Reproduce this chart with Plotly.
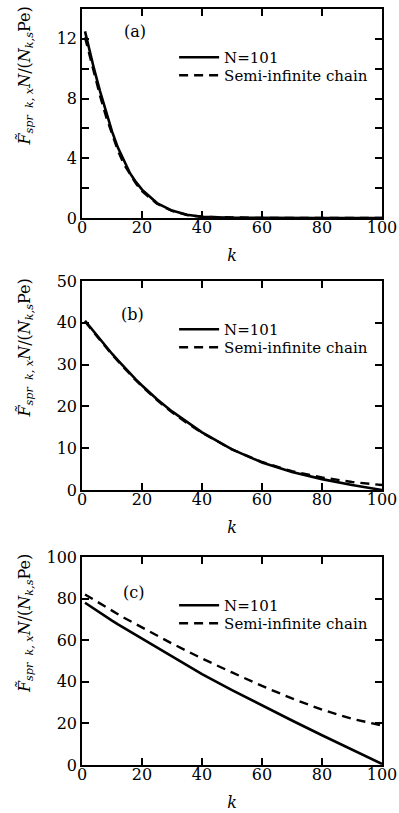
import plotly.graph_objects as go

# ---- data ----
k = [1, 2, 4, 6, 8, 10, 12, 14, 16, 18, 20, 25, 30, 35, 40, 50, 60, 70, 80, 90, 100]

a_n101 = [12.5, 11.6, 10.0, 8.5, 7.1, 5.8, 4.7, 3.8, 3.0, 2.4, 1.9, 1.0, 0.5, 0.22, 0.08, 0.02, 0.0, 0.0, 0.0, 0.0, 0.0]
a_semi = [12.1, 11.3, 9.7, 8.2, 6.8, 5.6, 4.5, 3.6, 2.9, 2.3, 1.8, 0.95, 0.48, 0.2, 0.08, 0.02, 0.0, 0.0, 0.0, 0.0, 0.0]

b_n101 = [40.5, 39.6, 37.8, 36.1, 34.4, 32.6, 31.0, 29.4, 27.9, 26.4, 25.0, 21.7, 18.8, 16.2, 13.8, 9.7, 6.6, 4.3, 2.6, 1.2, 0.0]
b_semi = [40.3, 39.4, 37.6, 35.9, 34.2, 32.4, 30.8, 29.2, 27.7, 26.2, 24.8, 21.5, 18.6, 16.0, 13.7, 9.7, 6.7, 4.5, 3.0, 1.9, 1.2]

c_n101 = [78.0, 77.0, 75.1, 73.2, 71.3, 69.4, 67.6, 65.9, 64.2, 62.4, 60.7, 56.3, 52.0, 47.8, 43.7, 36.0, 28.6, 21.4, 14.3, 7.3, 0.5]
c_semi = [82.0, 81.1, 79.3, 77.6, 75.9, 74.2, 72.5, 70.8, 69.2, 67.6, 66.0, 62.1, 58.4, 54.8, 51.2, 44.5, 38.0, 32.0, 26.6, 22.2, 19.0]

panels = [
    ("(a)", a_n101, a_semi, [0, 14], [0, 2, 4, 6, 8, 10, 12, 14], ["0", "", "4", "", "8", "", "12", ""]),
    ("(b)", b_n101, b_semi, [0, 50], [0, 10, 20, 30, 40, 50], ["0", "10", "20", "30", "40", "50"]),
    ("(c)", c_n101, c_semi, [0, 100], [0, 20, 40, 60, 80, 100], ["0", "20", "40", "60", "80", "100"]),
]
x_ticks = [0, 20, 40, 60, 80, 100]
label_pos = [(17.7, 12.46), (16.7, 41.9), (17.3, 83.0)]

FONT = "DejaVu Serif"
FS = 16
W, H = 399, 813
ML, MR, MT, MB = 82, 17, 9, 48
plot_h = H - MT - MB
# pixel rows of each plot area (top, bottom)
rows = [(9, 218), (281, 490), (557, 765)]

fig = go.Figure()
annotations = []
for i, (lab, yn, ys, yr, yt, ytt) in enumerate(panels):
    n = "" if i == 0 else str(i + 1)
    xa, ya = "x" + n, "y" + n
    leg_n = "legend" + ("" if i == 0 else str(2 * i + 1))
    leg_s = "legend" + str(2 * i + 2)
    fig.add_trace(go.Scatter(x=k, y=ys, mode="lines", name="Semi-infinite chain",
                             line=dict(color="black", width=2.4, dash="9px,6px"),
                             xaxis=xa, yaxis=ya, legend=leg_s))
    fig.add_trace(go.Scatter(x=k, y=yn, mode="lines", name="N=101",
                             line=dict(color="black", width=2.6),
                             xaxis=xa, yaxis=ya, legend=leg_n))
    top, bot = rows[i]
    d0 = (H - MB - bot) / plot_h
    d1 = (H - MB - top) / plot_h
    axcommon = dict(showline=True, linecolor="black", linewidth=1.5, mirror="ticks",
                    ticks="inside", ticklen=7, tickwidth=1.5, tickcolor="black",
                    showgrid=False, zeroline=False,
                    tickfont=dict(family=FONT, size=FS, color="black"))
    fig.layout["xaxis" + n] = dict(range=[0, 100], tickvals=x_ticks, anchor=ya,
                                   domain=[0, 1], ticklabelstandoff=-6,
                                   title=dict(text="<i>k</i>", font=dict(family=FONT, size=FS, color="black"), standoff=14),
                                   **axcommon)
    fig.layout["yaxis" + n] = dict(range=yr, tickvals=yt, ticktext=ytt, anchor=xa,
                                   domain=[d0, d1], **axcommon)
    legbase = dict(x=0.307, xanchor="left", yanchor="top", itemwidth=40,
                   bgcolor="rgba(0,0,0,0)",
                   font=dict(family=FONT, size=15, color="black"))
    fig.layout[leg_n] = dict(y=d1 - 32 / plot_h, **legbase)
    fig.layout[leg_s] = dict(y=d1 - 50 / plot_h, **legbase)
    annotations.append(dict(text=lab, x=label_pos[i][0], y=label_pos[i][1], xref=xa, yref=ya,
                            showarrow=False, font=dict(family=FONT, size=FS, color="black")))
    annotations.append(dict(text="<i>F\u0303</i><sub><i>spr  k, x</i></sub><i>N</i>/(<i>N</i><sub><i>k,s</i></sub>Pe)",
                            x=0, y=(d0 + d1) / 2, xref="paper", yref="paper",
                            xshift=-57, yshift=37, textangle=-90, showarrow=False,
                            xanchor="center", yanchor="middle",
                            font=dict(family=FONT, size=16, color="black")))

fig.update_layout(width=W, height=H,
                  margin=dict(l=ML, r=MR, t=MT, b=MB, autoexpand=False),
                  paper_bgcolor="white", plot_bgcolor="white",
                  annotations=annotations, showlegend=True)
fig.write_html("out.html")
